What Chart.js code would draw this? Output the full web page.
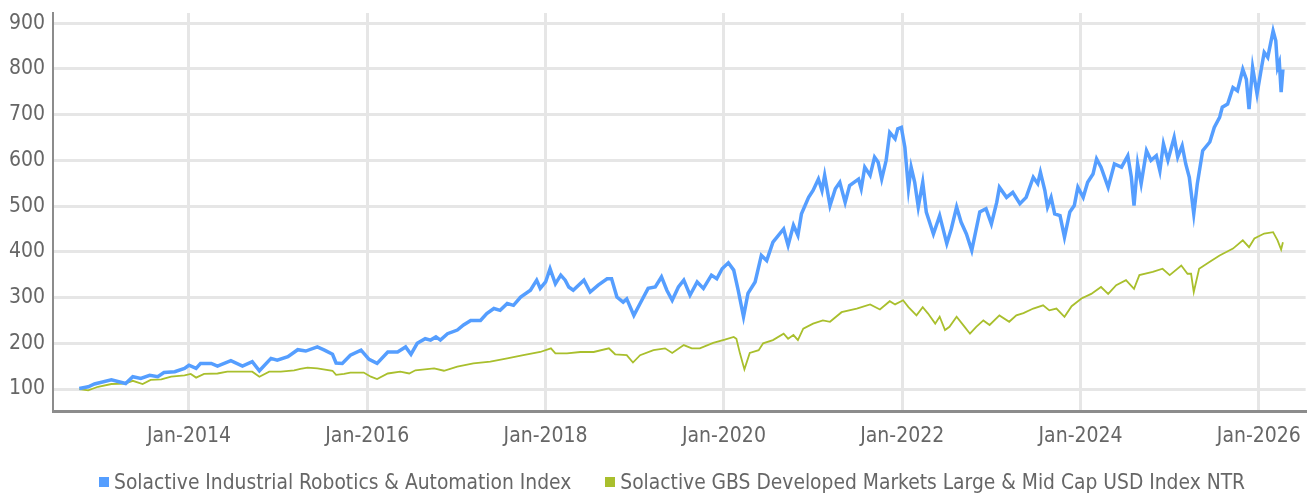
<!DOCTYPE html>
<html lang="en">
<head>
  <meta charset="UTF-8">
  <title>Solactive Industrial Robotics &amp; Automation Index</title>
  <script src="https://cdn.jsdelivr.net/npm/chart.js"></script>
  <style>
    * { box-sizing: border-box; margin: 0; padding: 0; }
    body { background: #fff; width: 1314px; height: 495px; overflow: hidden; position: relative;
           font-family: 'Liberation Sans Narrow', 'DejaVu Sans Condensed', sans-serif; }
    #wrap { position: absolute; left: 0; top: 0; width: 1314px; height: 495px; }
    .legend { position: absolute; left: 99px; top: 470px; display: flex; align-items: center;
              font-size: 20.8px; color: #666; white-space: nowrap; }
    .legend .item { display: flex; align-items: center; margin-right: 34px; }
    .legend .box { width: 10px; height: 10px; margin-right: 5px; }
  </style>
</head>
<body>
<div id="wrap"><canvas id="chart" width="1314" height="495"></canvas></div>
<div class="legend" id="legend"></div>

<script>
  // ─── data (x = decimal year) ───────────────────────────────────────────────
  const roboName = 'Solactive Industrial Robotics & Automation Index';
  const gbsName  = 'Solactive GBS Developed Markets Large & Mid Cap USD Index NTR';

  const roboDates = [
    2012.77, 2012.87, 2012.94, 2013.13, 2013.29, 2013.37, 2013.46, 2013.56, 2013.65, 2013.72,
    2013.84, 2013.95, 2014.00, 2014.08, 2014.13, 2014.25, 2014.32, 2014.47, 2014.60, 2014.71,
    2014.79, 2014.92, 2014.99, 2015.11, 2015.22, 2015.31, 2015.44, 2015.52, 2015.61, 2015.65,
    2015.72, 2015.81, 2015.93, 2016.02, 2016.11, 2016.23, 2016.34, 2016.43, 2016.49, 2016.56,
    2016.65, 2016.71, 2016.77, 2016.82, 2016.90, 2017.01, 2017.08, 2017.16, 2017.27, 2017.34,
    2017.42, 2017.49, 2017.57, 2017.64, 2017.72, 2017.83, 2017.90, 2017.94, 2018.00, 2018.05,
    2018.11, 2018.17, 2018.22, 2018.26, 2018.31, 2018.43, 2018.50, 2018.59, 2018.69, 2018.74,
    2018.80, 2018.87, 2018.91, 2018.99, 2019.06, 2019.15, 2019.23, 2019.30, 2019.36, 2019.42,
    2019.49, 2019.55, 2019.62, 2019.70, 2019.77, 2019.86, 2019.92, 2019.98, 2020.05, 2020.11,
    2020.16, 2020.22, 2020.27, 2020.35, 2020.42, 2020.48, 2020.55, 2020.67, 2020.70, 2020.72,
    2020.78, 2020.83, 2020.87, 2020.95, 2021.00, 2021.06, 2021.10, 2021.13, 2021.19, 2021.25,
    2021.30, 2021.36, 2021.41, 2021.51, 2021.54, 2021.58, 2021.64, 2021.69, 2021.73, 2021.77,
    2021.82, 2021.86, 2021.92, 2021.95, 2021.99, 2022.03, 2022.07, 2022.10, 2022.14, 2022.18,
    2022.23, 2022.27, 2022.35, 2022.42, 2022.50, 2022.55, 2022.61, 2022.66, 2022.72, 2022.78,
    2022.87, 2022.94, 2023.00, 2023.06, 2023.09, 2023.17, 2023.24, 2023.32, 2023.39, 2023.47,
    2023.52, 2023.55, 2023.60, 2023.63, 2023.67, 2023.71, 2023.77, 2023.82, 2023.88, 2023.93,
    2023.97, 2024.03, 2024.08, 2024.14, 2024.18, 2024.23, 2024.31, 2024.38, 2024.46, 2024.53,
    2024.57, 2024.60, 2024.64, 2024.68, 2024.74, 2024.79, 2024.85, 2024.89, 2024.93, 2024.98,
    2025.05, 2025.09, 2025.14, 2025.18, 2025.22, 2025.27, 2025.31, 2025.37, 2025.45, 2025.50,
    2025.56, 2025.59, 2025.65, 2025.71, 2025.76, 2025.82, 2025.86, 2025.89, 2025.93, 2025.98,
    2026.03, 2026.06, 2026.10, 2026.16, 2026.19, 2026.21, 2026.23, 2026.25, 2026.27
  ];
  const roboValues = [
    101, 105, 111, 120, 112, 127, 123, 130, 127, 136,
    138, 145, 152, 145, 156, 156, 150, 162, 150, 160,
    140, 167, 163, 171, 186, 183, 192, 185, 176, 157,
    156, 174, 185, 165, 156, 181, 181, 192, 176, 200,
    210, 207, 214, 207, 221, 229, 240, 250, 250, 265,
    276, 272, 287, 283, 301, 316, 338, 320, 334, 363,
    330, 349, 338, 323, 316, 338, 312, 327, 341, 341,
    301, 290, 297, 261, 287, 320, 323, 345, 316, 294,
    323, 338, 305, 334, 320, 349, 341, 363, 376, 360,
    316, 258, 309, 334, 392, 381, 421, 450, 428, 414,
    458, 436, 483, 519, 534, 559, 534, 567, 501, 538,
    552, 508, 545, 559, 538, 585, 567, 607, 596, 559,
    600, 661, 647, 669, 672, 628, 538, 585, 552, 498,
    552, 487, 439, 479, 418, 450, 498, 465, 439, 403,
    487, 494, 461, 508, 541, 519, 530, 505, 519, 563,
    549, 574, 534, 498, 519, 483, 479, 432, 487, 501,
    541, 519, 552, 570, 603, 585, 541, 592, 585, 610,
    563, 501, 592, 549, 621, 600, 610, 577, 636, 600,
    650, 607, 632, 592, 563, 483, 549, 621, 640, 672,
    694, 716, 723, 759, 752, 799, 777, 712, 803, 745,
    803, 836, 825, 883, 861, 803, 814, 749, 799
  ];

  const gbsDates = [
    2012.77, 2012.87, 2012.98, 2013.13, 2013.28, 2013.37, 2013.48, 2013.57, 2013.69, 2013.80,
    2013.95, 2014.02, 2014.08, 2014.17, 2014.32, 2014.43, 2014.58, 2014.71, 2014.79, 2014.90,
    2015.03, 2015.18, 2015.25, 2015.33, 2015.44, 2015.61, 2015.65, 2015.74, 2015.81, 2015.96,
    2016.04, 2016.11, 2016.23, 2016.37, 2016.47, 2016.54, 2016.75, 2016.86, 2017.01, 2017.19,
    2017.38, 2017.57, 2017.75, 2017.94, 2018.06, 2018.11, 2018.24, 2018.39, 2018.54, 2018.71,
    2018.78, 2018.91, 2018.98, 2019.06, 2019.21, 2019.34, 2019.42, 2019.55, 2019.64, 2019.73,
    2019.88, 2020.01, 2020.11, 2020.14, 2020.18, 2020.23, 2020.29, 2020.39, 2020.44, 2020.55,
    2020.67, 2020.72, 2020.78, 2020.83, 2020.89, 2021.00, 2021.11, 2021.19, 2021.32, 2021.49,
    2021.64, 2021.75, 2021.86, 2021.92, 2022.01, 2022.07, 2022.16, 2022.23, 2022.29, 2022.37,
    2022.42, 2022.48, 2022.53, 2022.61, 2022.70, 2022.76, 2022.83, 2022.91, 2022.98, 2023.09,
    2023.20, 2023.28, 2023.36, 2023.47, 2023.58, 2023.65, 2023.73, 2023.82, 2023.90, 2024.01,
    2024.12, 2024.23, 2024.31, 2024.40, 2024.51, 2024.60, 2024.66, 2024.81, 2024.92, 2025.00,
    2025.13, 2025.20, 2025.24, 2025.27, 2025.33, 2025.45, 2025.56, 2025.71, 2025.82, 2025.89,
    2025.95, 2026.06, 2026.16, 2026.21, 2026.25, 2026.27
  ];
  const gbsValues = [
    100, 97, 105, 111, 112, 118, 111, 120, 121, 127,
    130, 133, 125, 133, 134, 138, 138, 138, 127, 138,
    138, 141, 144, 147, 145, 140, 131, 133, 136, 136,
    127, 122, 134, 138, 134, 141, 145, 140, 149, 156,
    160, 167, 174, 181, 189, 178, 178, 181, 181, 189,
    176, 174, 158, 174, 185, 189, 179, 196, 189, 189,
    201, 208, 214, 210, 178, 143, 179, 185, 200, 207,
    221, 210, 218, 207, 232, 243, 250, 247, 268, 276,
    285, 274, 292, 285, 294, 279, 261, 279, 265, 243,
    258, 229, 236, 258, 236, 221, 236, 250, 240, 261,
    247, 261, 266, 276, 283, 272, 276, 258, 281, 298,
    308, 323, 308, 327, 338, 319, 349, 356, 363, 349,
    370, 352, 352, 312, 363, 378, 392, 407, 425, 410,
    429, 440, 443, 425, 405, 421
  ];

  const yTicks = [100, 200, 300, 400, 500, 600, 700, 800, 900];
  const xTicks = [2014, 2016, 2018, 2020, 2022, 2024, 2026];

  const roboColor = '#559eff';
  const gbsColor  = '#a9bf2d';

  // ─── chart ─────────────────────────────────────────────────────────────────
  const fontFamily = "'Liberation Sans Narrow', 'DejaVu Sans Condensed', sans-serif";
  const toPoints = (xs, ys) => xs.map((x, i) => ({ x, y: ys[i] }));

  new Chart(document.getElementById('chart'), {
    type: 'line',
    data: {
      datasets: [
        {
          label: roboName,
          data: toPoints(roboDates, roboValues),
          borderColor: roboColor,
          backgroundColor: roboColor,
          borderWidth: 3.5,
          pointRadius: 0,
          tension: 0,
        },
        {
          label: gbsName,
          data: toPoints(gbsDates, gbsValues),
          borderColor: gbsColor,
          backgroundColor: gbsColor,
          borderWidth: 1.8,
          pointRadius: 0,
          tension: 0,
        },
      ],
    },
    options: {
      responsive: false,
      animation: false,
      layout: { padding: { top: 13, right: 4, bottom: 44, left: 0 } },
      plugins: { legend: { display: false }, tooltip: { enabled: false } },
      scales: {
        x: {
          type: 'linear',
          min: 2012.475,
          max: 2026.525,
          afterBuildTicks: s => { s.ticks = xTicks.map(v => ({ value: v })); },
          afterFit: s => { s.height = 40; },
          ticks: { font: { family: fontFamily, size: 21 }, color: '#666', padding: 13, maxRotation: 0,
                   callback: v => 'Jan-' + v },
          grid: { color: '#e6e6e6', lineWidth: 3, drawTicks: false },
          border: { display: true, color: '#8c8c8c', width: 3 },
        },
        y: {
          min: 52,
          max: 922,
          afterBuildTicks: s => { s.ticks = yTicks.map(v => ({ value: v })); },
          afterFit: s => { s.width = 53; s.paddingTop = 0; s.paddingBottom = 0; },
          ticks: { font: { family: fontFamily, size: 21, lineHeight: 0.4 }, color: '#666', padding: 8,
                   callback: v => String(v) },
          grid: { color: '#e6e6e6', lineWidth: 3, drawTicks: false },
          border: { display: true, color: '#8c8c8c', width: 2 },
        },
      },
    },
  });

  // Legend
  document.getElementById('legend').innerHTML = [[roboName, roboColor], [gbsName, gbsColor]]
    .map(([name, c]) => `<div class="item"><span class="box" style="background:${c}"></span>${name}</div>`)
    .join('');
</script>
</body>
</html>
